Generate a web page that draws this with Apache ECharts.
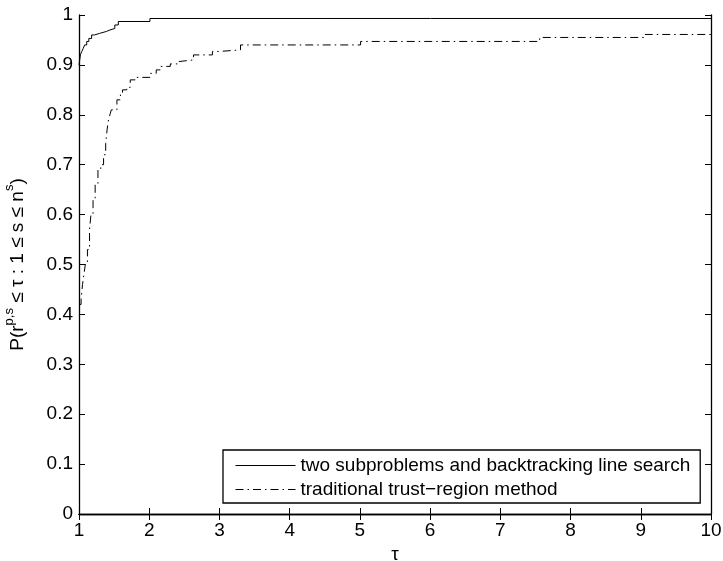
<!DOCTYPE html>
<html>
<head>
<meta charset="utf-8">
<script src="https://cdn.jsdelivr.net/npm/echarts@6/dist/echarts.min.js"></script>
<style>
  html, body { margin: 0; padding: 0; background: #fff; }
  #chart { width: 723px; height: 561px; }
</style>
</head>
<body>
<div id="chart"></div>
<script>
// Performance profile: fraction of problems solved within a factor tau of the best solver
const seriesNames = [
  'two subproblems and backtracking line search',
  'traditional trust\u2212region method'
];

const tauBacktrack = [1, 1.01, 1.02, 1.04, 1.06, 1.08, 1.11, 1.14, 1.18, 1.22, 1.29, 1.39, 1.44, 1.51, 1.56, 2.01, 10];
const rhoBacktrack = [0.90, 0.91, 0.92, 0.927, 0.933, 0.94, 0.947, 0.953, 0.96, 0.963, 0.967, 0.97, 0.973, 0.98, 0.987, 0.993, 0.993];

const tauTrust = [1, 1.03, 1.05, 1.07, 1.09, 1.12, 1.15, 1.17, 1.2, 1.23, 1.27, 1.31, 1.35, 1.38, 1.4, 1.42, 1.44, 1.46,
                  1.54, 1.59, 1.62, 1.68, 1.73, 1.8, 2.01, 2.1, 2.16, 2.3, 2.4, 2.44, 2.63, 2.9, 3.0, 3.3, 5.01, 7.56, 9.06, 10];
const rhoTrust = [0.42, 0.43, 0.46, 0.48, 0.5, 0.53, 0.57, 0.6, 0.63, 0.66, 0.69, 0.7, 0.72, 0.743, 0.77, 0.79, 0.8, 0.81,
                  0.83, 0.84, 0.85, 0.855, 0.87, 0.875, 0.883, 0.89, 0.897, 0.902, 0.907, 0.91, 0.92, 0.927, 0.93, 0.94, 0.947, 0.955, 0.961, 0.961];

const xRange = [1, 10];
const xStep = 1;
const yRange = [0, 1];
const yStep = 0.1;

const FONT = 'Liberation Sans, Arial, Helvetica, sans-serif';

function pairs(xs, ys) {
  return xs.map((x, i) => [x, ys[i]]);
}

function fmtY(v) {
  const r = Math.round(v * 10) / 10;
  return r === 0 ? '0' : r === 1 ? '1' : String(r);
}

const baseAxisLine = { show: true, lineStyle: { color: '#000', width: 1.3 } };
const innerTick = { show: true, inside: true, length: 6, lineStyle: { color: '#000', width: 1 } };

const chart = echarts.init(document.getElementById('chart'), null, { renderer: 'canvas' });

chart.setOption({
  animation: false,
  backgroundColor: '#fff',
  textStyle: { fontFamily: FONT },
  grid: { left: 79, right: 12, top: 15, bottom: 47, containLabel: false, outerBoundsMode: 'none' },
  xAxis: [
    {
      type: 'value', position: 'bottom',
      min: xRange[0], max: xRange[1], interval: xStep,
      name: '\u03c4', nameLocation: 'middle', nameGap: 26,
      nameTextStyle: { fontFamily: FONT, fontSize: 19, color: '#000' },
      axisLine: baseAxisLine, axisTick: innerTick,
      axisLabel: { color: '#000', fontFamily: FONT, fontSize: 19, margin: 7 },
      splitLine: { show: false }
    },
    {
      type: 'value', position: 'top',
      min: xRange[0], max: xRange[1], interval: xStep,
      axisLine: baseAxisLine, axisTick: innerTick,
      axisLabel: { show: false }, splitLine: { show: false }
    }
  ],
  yAxis: [
    {
      type: 'value', position: 'left',
      min: yRange[0], max: yRange[1], interval: yStep,
      name: '{n|P(r}{s|p,s}{n| \u2264 \u03c4 : 1 \u2264 s \u2264 n}{s|s}{n|)}',
      nameLocation: 'middle', nameRotate: 90, nameGap: 46,
      nameTextStyle: {
        color: '#000',
        rich: {
          n: { fontFamily: FONT, fontSize: 19, lineHeight: 30, color: '#000' },
          s: { fontFamily: FONT, fontSize: 13, lineHeight: 13, verticalAlign: 'top', color: '#000' }
        }
      },
      axisLine: baseAxisLine, axisTick: innerTick,
      axisLabel: { color: '#000', fontFamily: FONT, fontSize: 19, margin: 6, formatter: fmtY },
      splitLine: { show: false }
    },
    {
      type: 'value', position: 'right',
      min: yRange[0], max: yRange[1], interval: yStep,
      axisLine: baseAxisLine, axisTick: innerTick,
      axisLabel: { show: false }, splitLine: { show: false }
    }
  ],
  legend: {
    orient: 'vertical',
    left: 223, top: 450,
    padding: [6, 10, 4, 12],
    itemGap: 5,
    itemWidth: 60, itemHeight: 14,
    backgroundColor: '#fff',
    borderColor: '#000', borderWidth: 1.3, borderRadius: 0,
    itemStyle: { opacity: 0 },
    lineStyle: { width: 1 },
    textStyle: { color: '#000', fontFamily: FONT, fontSize: 19 },
    data: seriesNames
  },
  series: [
    {
      name: seriesNames[0], type: 'line', step: 'end',
      xAxisIndex: 0, yAxisIndex: 0,
      symbol: 'none', silent: true,
      lineStyle: { color: '#000', width: 1, type: 'solid' },
      itemStyle: { color: '#000' },
      data: pairs(tauBacktrack, rhoBacktrack)
    },
    {
      name: seriesNames[1], type: 'line', step: 'end',
      xAxisIndex: 0, yAxisIndex: 0,
      symbol: 'none', silent: true,
      lineStyle: { color: '#000', width: 1, type: [8, 4, 1.5, 4] },
      itemStyle: { color: '#000' },
      data: pairs(tauTrust, rhoTrust)
    }
  ]
});
</script>
</body>
</html>
